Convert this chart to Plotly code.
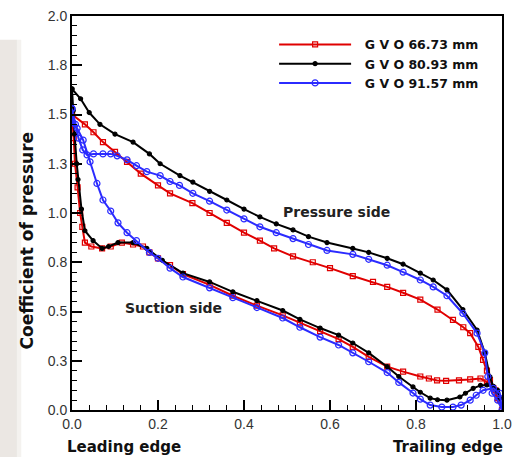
import plotly.graph_objects as go

# ---- Surface pressure coefficient, three guide-vane openings ----
# Each loop runs along the pressure side (leading -> trailing edge),
# then back along the suction side (trailing -> leading edge).

labels = ["\u00a0\u00a0G V O 66.73 mm", "\u00a0\u00a0G V O 80.93 mm", "\u00a0\u00a0G V O 91.57 mm"]

# GVO 66.73 mm
x_6673 = [0.0, 0.03, 0.05, 0.072, 0.10, 0.128, 0.16, 0.20, 0.228, 0.28, 0.32, 0.36,
          0.40, 0.437, 0.47, 0.514, 0.56, 0.60, 0.653, 0.70, 0.733, 0.77, 0.81, 0.85,
          0.886, 0.91, 0.926, 0.945, 0.956, 0.965, 0.972, 0.985, 0.995, 1.0,
          0.99, 0.98, 0.965, 0.95, 0.926, 0.90, 0.87, 0.849, 0.83, 0.81, 0.77, 0.733,
          0.69, 0.653, 0.62, 0.577, 0.53, 0.49, 0.43, 0.374, 0.32, 0.258, 0.228, 0.20,
          0.18, 0.165, 0.142, 0.116, 0.09, 0.07, 0.045, 0.030, 0.024, 0.019, 0.013,
          0.007, 0.004, 0.0]
cp_6673 = [1.50, 1.45, 1.41, 1.36, 1.31, 1.26, 1.20, 1.14, 1.10, 1.05, 1.00, 0.95,
           0.90, 0.86, 0.82, 0.78, 0.75, 0.72, 0.68, 0.65, 0.625, 0.595, 0.56, 0.51,
           0.457, 0.42, 0.39, 0.32, 0.254, 0.20, 0.152, 0.10, 0.05, 0.0,
           0.06, 0.11, 0.14, 0.16, 0.155, 0.15, 0.148, 0.15, 0.16, 0.17, 0.195, 0.22,
           0.27, 0.32, 0.36, 0.40, 0.44, 0.48, 0.53, 0.58, 0.635, 0.69, 0.735, 0.77,
           0.80, 0.83, 0.84, 0.85, 0.83, 0.82, 0.83, 0.85, 0.93, 1.0, 1.13,
           1.25, 1.38, 1.50]

# GVO 80.93 mm
x_8093 = [0.0, 0.02, 0.04, 0.065, 0.10, 0.142, 0.18, 0.205, 0.251, 0.281, 0.32, 0.36,
          0.40, 0.437, 0.475, 0.514, 0.55, 0.593, 0.653, 0.69, 0.733, 0.77, 0.81, 0.84,
          0.872, 0.909, 0.942, 0.96, 0.972, 0.98, 0.99, 0.995,
          0.99, 0.98, 0.965, 0.95, 0.933, 0.915, 0.902, 0.872, 0.85, 0.833, 0.81, 0.793,
          0.76, 0.733, 0.69, 0.653, 0.62, 0.577, 0.53, 0.49, 0.43, 0.374, 0.32, 0.258,
          0.21, 0.174, 0.142, 0.107, 0.085, 0.07, 0.049, 0.03, 0.022, 0.014, 0.011,
          0.006, 0.003, 0.0]
cp_8093 = [1.63, 1.58, 1.51, 1.45, 1.40, 1.36, 1.30, 1.25, 1.19, 1.157, 1.11, 1.066,
           1.02, 0.98, 0.945, 0.914, 0.88, 0.85, 0.82, 0.80, 0.77, 0.74, 0.695, 0.66,
           0.61, 0.51, 0.406, 0.29, 0.168, 0.117, 0.09, 0.06,
           0.10, 0.12, 0.127, 0.125, 0.11, 0.085, 0.066, 0.05, 0.052, 0.06, 0.09, 0.117,
           0.17, 0.22, 0.29, 0.34, 0.38, 0.416, 0.46, 0.505, 0.555, 0.60, 0.65, 0.695,
           0.76, 0.82, 0.85, 0.85, 0.83, 0.82, 0.86, 0.91, 1.02, 1.17, 1.25,
           1.40, 1.52, 1.63]

# GVO 91.57 mm
x_9157 = [0.0, 0.008, 0.015, 0.025, 0.035, 0.05, 0.072, 0.09, 0.105, 0.128, 0.15, 0.174,
          0.205, 0.228, 0.25, 0.281, 0.32, 0.36, 0.40, 0.437, 0.475, 0.514, 0.55, 0.593,
          0.653, 0.69, 0.733, 0.77, 0.81, 0.84, 0.872, 0.909, 0.942, 0.96, 0.967, 0.977,
          0.99, 1.0,
          0.995, 0.98, 0.956, 0.94, 0.926, 0.905, 0.886, 0.86, 0.833, 0.81, 0.793, 0.76,
          0.733, 0.69, 0.653, 0.62, 0.577, 0.53, 0.49, 0.43, 0.374, 0.32, 0.258, 0.228,
          0.20, 0.18, 0.15, 0.128, 0.107, 0.09, 0.072, 0.058, 0.042, 0.026, 0.012,
          0.002, 0.0]
cp_9157 = [1.53, 1.45, 1.38, 1.32, 1.295, 1.30, 1.30, 1.30, 1.29, 1.27, 1.24, 1.21,
           1.19, 1.16, 1.14, 1.10, 1.06, 1.015, 0.97, 0.93, 0.90, 0.87, 0.84, 0.81,
           0.79, 0.765, 0.735, 0.70, 0.66, 0.625, 0.58, 0.49, 0.39, 0.29, 0.17, 0.085,
           0.05, 0.0,
           0.085, 0.11, 0.10, 0.075, 0.05, 0.025, 0.015, 0.015, 0.025, 0.055, 0.086, 0.14,
           0.19, 0.245, 0.29, 0.33, 0.37, 0.42, 0.467, 0.52, 0.57, 0.62, 0.675, 0.72,
           0.77, 0.80, 0.86, 0.90, 0.95, 1.01, 1.066, 1.15, 1.26, 1.37, 1.43,
           1.46, 1.53]

y_tickvals = [0.0, 0.25, 0.5, 0.75, 1.0, 1.25, 1.5, 1.75, 2.0]
y_ticktext = ["0.0", "0.3", "0.5", "0.8", "1.0", "1.3", "1.5", "1.8", "2.0"]

TICK_FONT = "Liberation Sans, Arial, sans-serif"
BOLD_FONT = "DejaVu Sans, sans-serif"

styles = [
    dict(color="#e00000", symbol="square-open", size=5),
    dict(color="#000000", symbol="circle", size=4),
    dict(color="#2b2bff", symbol="circle-open", size=6),
]

fig = go.Figure()
for xs, ys, name, st in zip([x_6673, x_8093, x_9157], [cp_6673, cp_8093, cp_9157], labels, styles):
    fig.add_trace(go.Scatter(
        x=xs, y=ys, name=name, mode="lines+markers",
        line=dict(color=st["color"], width=2),
        marker=dict(symbol=st["symbol"], size=st["size"], color=st["color"],
                    line=dict(color=st["color"], width=1.2)),
    ))

axis_common = dict(
    showline=True, linecolor="black", linewidth=2, mirror=True,
    ticks="inside", ticklen=10, tickwidth=2, tickcolor="black",
    showgrid=False, zeroline=False, automargin=False,
    tickfont=dict(family=TICK_FONT, size=14, color="#333333"),
)

fig.update_xaxes(range=[0, 1], dtick=0.2, tick0=0, tickformat=".1f",
                 minor=dict(dtick=0.04, ticks="inside", ticklen=5, tickwidth=1, tickcolor="black"),
                 **axis_common)
fig.update_yaxes(range=[0, 2], tickvals=y_tickvals, ticktext=y_ticktext,
                 minor=dict(dtick=0.05, tick0=0, ticks="inside", ticklen=5, tickwidth=1, tickcolor="black"),
                 **axis_common)

fig.update_layout(
    width=513, height=457,
    margin=dict(l=72, r=11, t=16, b=47),
    paper_bgcolor="white", plot_bgcolor="white",
    font=dict(family=TICK_FONT, color="black"),
    showlegend=True,
    legend=dict(x=0.47, y=0.965, xanchor="left", yanchor="top",
                bgcolor="rgba(255,255,255,0)", borderwidth=0,
                itemwidth=72, tracegroupgap=0,
                font=dict(family=BOLD_FONT, size=12.5, color="#111111", weight="bold")),
    shapes=[
        dict(type="rect", xref="paper", yref="paper", x0=-0.1674, x1=-0.128,
             y0=-0.12, y1=0.94, fillcolor="#ebe7e3", line=dict(width=0), layer="below"),
        dict(type="rect", xref="paper", yref="paper", x0=-0.128, x1=-0.118,
             y0=-0.12, y1=0.94, fillcolor="#f4f2ef", line=dict(width=0), layer="below"),
    ],
    annotations=[
        dict(text="Coefficient of pressure", xref="paper", yref="paper",
             x=-0.105, y=0.43, xanchor="center", yanchor="middle",
             textangle=-90, showarrow=False,
             font=dict(family=BOLD_FONT, size=17, color="#111111", weight="bold")),
        dict(text="Leading edge", xref="paper", yref="paper", x=-0.016, y=-0.094,
             xanchor="left", yanchor="middle", showarrow=False,
             font=dict(family=BOLD_FONT, size=15, color="#111111", weight="bold")),
        dict(text="Trailing edge", xref="paper", yref="paper", x=1.007, y=-0.094,
             xanchor="right", yanchor="middle", showarrow=False,
             font=dict(family=BOLD_FONT, size=15, color="#111111", weight="bold")),
        dict(text="Pressure side", x=0.614, y=1.005, showarrow=False,
             font=dict(family=BOLD_FONT, size=14, color="#222222", weight="bold")),
        dict(text="Suction side", x=0.237, y=0.518, showarrow=False,
             font=dict(family=BOLD_FONT, size=14, color="#222222", weight="bold")),
    ],
)

fig.write_html("out.html")
